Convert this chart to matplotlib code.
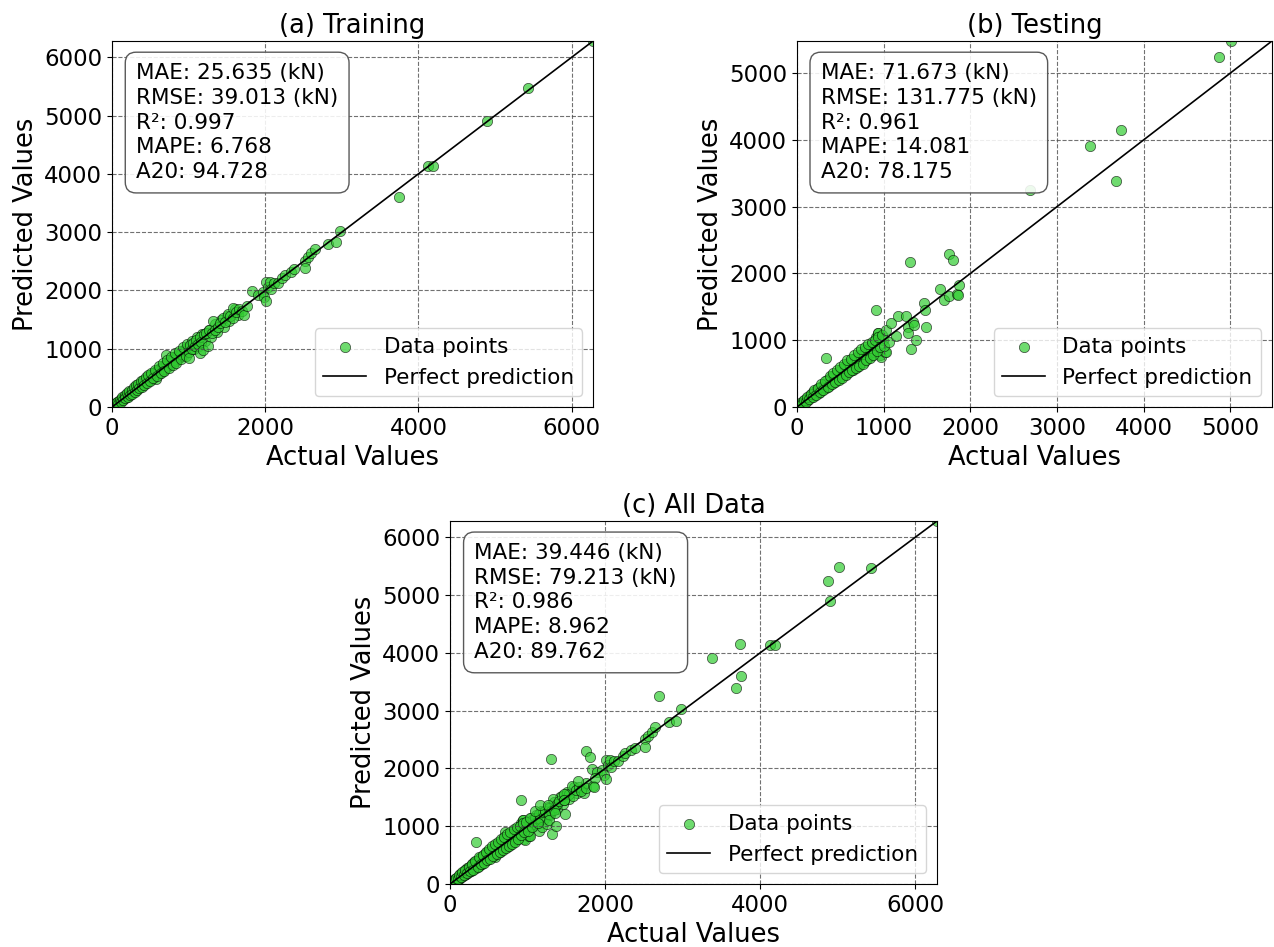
import numpy as np
import matplotlib.pyplot as plt

# Training set: (actual, predicted) capacities in kN
train_actual = [
    25, 40, 55, 60, 75, 85, 95, 110, 120, 130, 140, 150, 160, 170, 180, 190,
    200, 210, 220, 230, 240, 250, 260, 270, 280, 290, 300, 300,
    310, 320, 335, 345, 360, 370, 385, 395, 410, 420, 430, 445, 455, 465,
    480, 490, 500, 510, 525, 535, 550, 560, 575, 585, 600, 610, 625, 635,
    650, 660, 675, 690, 700, 710, 720, 735, 750, 760, 775, 790, 800, 815,
    830, 845, 860, 875, 890, 905, 920, 935, 950, 965, 980, 995, 580,
    350, 450, 550, 650, 750, 850, 950, 400, 500, 600, 700, 800, 900, 1000,
    15, 35, 45, 65, 80, 100, 115, 135, 145, 165, 175, 195, 205, 225, 235,
    255, 265, 285, 295, 315, 325, 340, 355, 375, 390, 405, 415, 440, 460,
    475, 495, 515, 540, 565, 590, 620, 645, 665, 685, 715, 740, 770, 795,
    820, 840, 870, 895, 925, 960, 985, 1010, 1050, 1075, 1110, 1130, 1180,
    1215, 1260, 1290, 1340, 1375, 1420, 1460, 1500, 1530, 1600, 1640,
    1004, 1020, 1040, 1060, 1080, 1100, 1120, 1143, 1143, 1160, 1186, 1200,
    1230, 1251, 1273, 1300, 1325, 1350, 1381, 1410, 1446, 1470, 1511, 1540,
    1576, 1584, 1619, 1662, 1700, 1727, 1760, 1827, 1900, 1965, 1987, 2009,
    2017, 2040,
    2065, 2082, 2117, 2169, 2225, 2260, 2334, 2380, 2515, 2519, 2558, 2601,
    2645, 2818, 2918, 2974,
    3750, 4130, 4190, 4900, 5430, 6280,
]
train_pred = [
    30, 38, 62, 52, 80, 78, 105, 102, 131, 124, 150, 139, 172, 163, 195, 176,
    214, 198, 236, 221, 262, 238, 275, 252, 300, 276, 322, 285,
    345, 300, 360, 330, 395, 350, 410, 372, 440, 400, 470, 425, 500, 440,
    515, 470, 545, 488, 560, 505, 590, 530, 615, 560, 640, 575, 670, 600,
    690, 625, 720, 655, 745, 892, 690, 775, 715, 800, 740, 835, 765, 860,
    790, 890, 820, 915, 850, 950, 880, 975, 905, 1010, 940, 1035, 475,
    360, 455, 555, 655, 760, 855, 960, 405, 505, 608, 705, 808, 905, 1005,
    20, 50, 30, 90, 60, 125, 90, 165, 120, 200, 150, 235, 180, 270, 200,
    300, 230, 340, 260, 380, 290, 400, 320, 440, 350, 470, 375, 510, 420,
    550, 445, 590, 490, 640, 530, 700, 580, 760, 620, 810, 670, 860, 720,
    920, 760, 960, 820, 1030, 880, 1080, 940, 1140, 1000, 1200, 1050, 1260,
    1130, 1330, 1200, 1420, 1290, 1500, 1380, 1560, 1470, 1680, 1580,
    835, 1070, 990, 1100, 1040, 1150, 1080, 1206, 921, 1120, 978, 1250,
    1264, 1046, 1321, 1270, 1475, 1330, 1377, 1440, 1521, 1460, 1595, 1560,
    1693, 1521, 1635, 1676, 1650, 1578, 1740, 1995, 1930, 1978, 1892, 2139,
    1823, 2060,
    2149, 2019, 2122, 2132, 2208, 2264, 2321, 2360, 2510, 2379, 2568, 2636,
    2710, 2796, 2825, 3024,
    3600, 4140, 4140, 4900, 5470, 6280,
]

# Testing set: (actual, predicted) capacities in kN
test_actual = [
    30, 50, 70, 90, 110, 130, 150, 170, 190, 210, 230, 250, 270, 290, 310,
    330, 340, 350, 370, 390, 410, 430, 450, 470, 490, 510, 530, 550, 570,
    590, 610, 630, 650, 670, 690, 710, 730, 750, 770, 790, 810, 830, 850,
    870, 890, 912, 938, 958, 969, 1018, 912, 938, 1026, 990,
    20, 40, 60, 80, 100, 120, 140, 160, 180, 200, 220, 240, 260, 280, 300,
    320, 360, 380, 400, 420, 440, 460, 480, 500, 520, 540, 560, 580, 600,
    620, 640, 660, 680, 700, 720, 740, 760, 780, 800, 820, 840, 860, 880,
    900, 920, 940, 960, 980, 1000, 1030, 1060,
    1090, 1141, 1167, 1262, 1276, 1281, 1301, 1312, 1335, 1355, 1370, 1465,
    1476, 1484, 1648, 1694, 1751, 1751, 1800, 1846, 1865, 1854,
    2692, 3384, 3684, 3738, 4871, 5010,
]
test_pred = [
    45, 40, 85, 75, 130, 110, 175, 145, 220, 180, 265, 215, 300, 250, 350,
    285, 730, 400, 320, 445, 355, 480, 390, 530, 425, 575, 460, 610, 500,
    660, 540, 700, 560, 740, 600, 780, 640, 800, 680, 860, 720, 880, 760,
    940, 830, 1054, 1114, 780, 754, 829, 1454, 1105, 829, 1010,
    25, 60, 50, 110, 80, 150, 120, 200, 150, 250, 185, 290, 220, 340, 250,
    390, 300, 460, 340, 510, 370, 560, 410, 600, 440, 650, 480, 700, 520,
    720, 550, 780, 590, 820, 620, 870, 650, 900, 700, 950, 730, 980, 780,
    1010, 840, 1050, 900, 1080, 920, 1150, 980,
    1264, 1064, 1364, 1364, 1204, 1114, 2164, 865, 1279, 1229, 1004, 1555,
    1454, 1204, 1774, 1609, 1669, 2294, 2204, 1690, 1829, 1684,
    3246, 3905, 3385, 4150, 5240, 5480,
]

all_actual = train_actual + test_actual
all_pred = train_pred + test_pred

stats_train = ["MAE: 25.635 (kN)", "RMSE: 39.013 (kN)", "R²: 0.997", "MAPE: 6.768", "A20: 94.728"]
stats_test = ["MAE: 71.673 (kN)", "RMSE: 131.775 (kN)", "R²: 0.961", "MAPE: 14.081", "A20: 78.175"]
stats_all = ["MAE: 39.446 (kN)", "RMSE: 79.213 (kN)", "R²: 0.986", "MAPE: 8.962", "A20: 89.762"]


def draw_panel(ax, actual, pred, title, stats, xticks):
    actual = np.asarray(actual, dtype=float)
    pred = np.asarray(pred, dtype=float)
    lim = max(actual.max(), pred.max())

    ax.scatter(actual, pred, s=55, c="limegreen", alpha=0.7,
               edgecolors="k", linewidths=0.5, label="Data points")
    ax.plot([0, lim], [0, lim], "k-", lw=1.2, label="Perfect prediction")
    ax.set_xlim(0, lim)
    ax.set_ylim(0, lim)
    ax.set_xticks(xticks)
    ax.grid(True, linestyle="--", color="0.3", linewidth=0.8, alpha=0.8)

    ax.set_title(title, fontsize=18.5)
    ax.set_xlabel("Actual Values", fontsize=18.5)
    ax.set_ylabel("Predicted Values", fontsize=18.5)
    ax.tick_params(labelsize=16.5)

    ax.text(0.05, 0.94, "\n".join(stats), transform=ax.transAxes,
            fontsize=15.5, va="top", ha="left", linespacing=1.3,
            bbox=dict(boxstyle="round,pad=0.5", facecolor=(1, 1, 1, 0.88),
                      edgecolor="0.35", linewidth=1.0))
    ax.legend(loc="lower right", fontsize=15.5)


fig = plt.figure(figsize=(12.74, 9.47), dpi=100)
ax_a = fig.add_axes([0.0879, 0.5702, 0.3776, 0.3865])
ax_b = fig.add_axes([0.6256, 0.5702, 0.3728, 0.3865])
ax_c = fig.add_axes([0.3532, 0.0665, 0.3823, 0.3833])

draw_panel(ax_a, train_actual, train_pred, "(a) Training", stats_train, [0, 2000, 4000, 6000])
draw_panel(ax_b, test_actual, test_pred, "(b) Testing", stats_test, [0, 1000, 2000, 3000, 4000, 5000])
draw_panel(ax_c, all_actual, all_pred, "(c) All Data", stats_all, [0, 2000, 4000, 6000])

fig.savefig("out.png", dpi=100)
